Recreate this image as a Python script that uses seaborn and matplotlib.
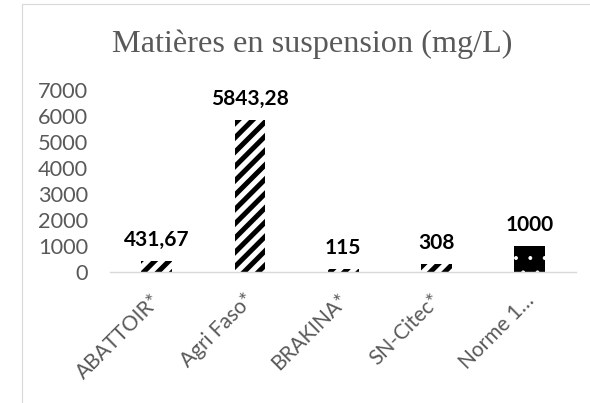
import matplotlib
matplotlib.use("Agg")
import matplotlib.pyplot as plt
import matplotlib.transforms as mtransforms
import seaborn as sns
from matplotlib.lines import Line2D

categories = ["ABATTOIR*", "Agri Faso*", "BRAKINA*", "SN-Citec*", "Norme 1…"]
values = [431.67, 5843.28, 115, 308, 1000]
bar_fills = ["white", "white", "white", "white", "black"]
hatches = ["//", "//", "//", "//", "."]
hatch_colors = ["black", "black", "black", "black", "white"]
yticks = [0, 1000, 2000, 3000, 4000, 5000, 6000, 7000]
title = "Matières en suspension (mg/L)"

# dpi 86 so that the hatch spacing matches the stripes of the original
DPI = 86
GREY = "#595959"

sns.set_style("white")
plt.rcParams["font.family"] = ["Lato", "DejaVu Sans"]
plt.rcParams["hatch.linewidth"] = 4.2

fig = plt.figure(figsize=(590.4 / DPI, 403.4 / DPI), dpi=DPI)
ax = fig.add_axes([0.1864, 0.3251, 0.7898, 0.4523])

sns.barplot(x=categories, y=values, hue=categories, palette=bar_fills,
            width=0.33, legend=False, saturation=1, ax=ax)

for p, h, hc in zip(ax.patches, hatches, hatch_colors):
    p.set_hatch(h)
    p.set_edgecolor(hc)
    p.set_linewidth(0)
    if h.startswith(".") and hasattr(p, "set_hatch_linewidth"):
        p.set_hatch_linewidth(0.8)

for p, v in zip(ax.patches, values):
    lab = f"{v:g}".replace(".", ",")
    ax.annotate(lab, (p.get_x() + p.get_width() / 2, p.get_height()),
                xytext=(0, 12.6), textcoords="offset points",
                ha="center", va="baseline", fontsize=17.5,
                fontweight="bold", color="black")

ax.set_ylim(0, 7000)
ax.set_yticks(yticks)
ax.set_xticks(range(len(categories)))
ax.set_xticklabels(categories, rotation=45, ha="right", va="top",
                   rotation_mode="anchor")
ax.tick_params(axis="x", length=0, pad=15, labelsize=17.5, labelcolor=GREY)
ax.tick_params(axis="y", length=0, pad=18.4, labelsize=18.2, labelcolor=GREY)
ax.set_xlabel("")
ax.set_ylabel("")

# nudge the slanted labels a little to the left, as in the original
shift = mtransforms.ScaledTranslation(-5 / 72, 0, fig.dpi_scale_trans)
for lbl in ax.get_xticklabels():
    lbl.set_transform(lbl.get_transform() + shift)

sns.despine(ax=ax, left=True)
ax.spines["bottom"].set_color("#d9d9d9")
ax.spines["bottom"].set_linewidth(1.2)

fig.text(0.529, 1 - 52 / 403, title, ha="center", va="baseline",
         family="Liberation Serif", fontsize=27, color=GREY)

# light frame of the chart area
bx, by = 22 / 590, 1 - 4 / 403
fig.add_artist(Line2D([bx, bx], [0, by], transform=fig.transFigure,
                      color="#d9d9d9", lw=1))
fig.add_artist(Line2D([bx, 1], [by, by], transform=fig.transFigure,
                      color="#d9d9d9", lw=1))

fig.savefig("out.png", dpi=DPI)
